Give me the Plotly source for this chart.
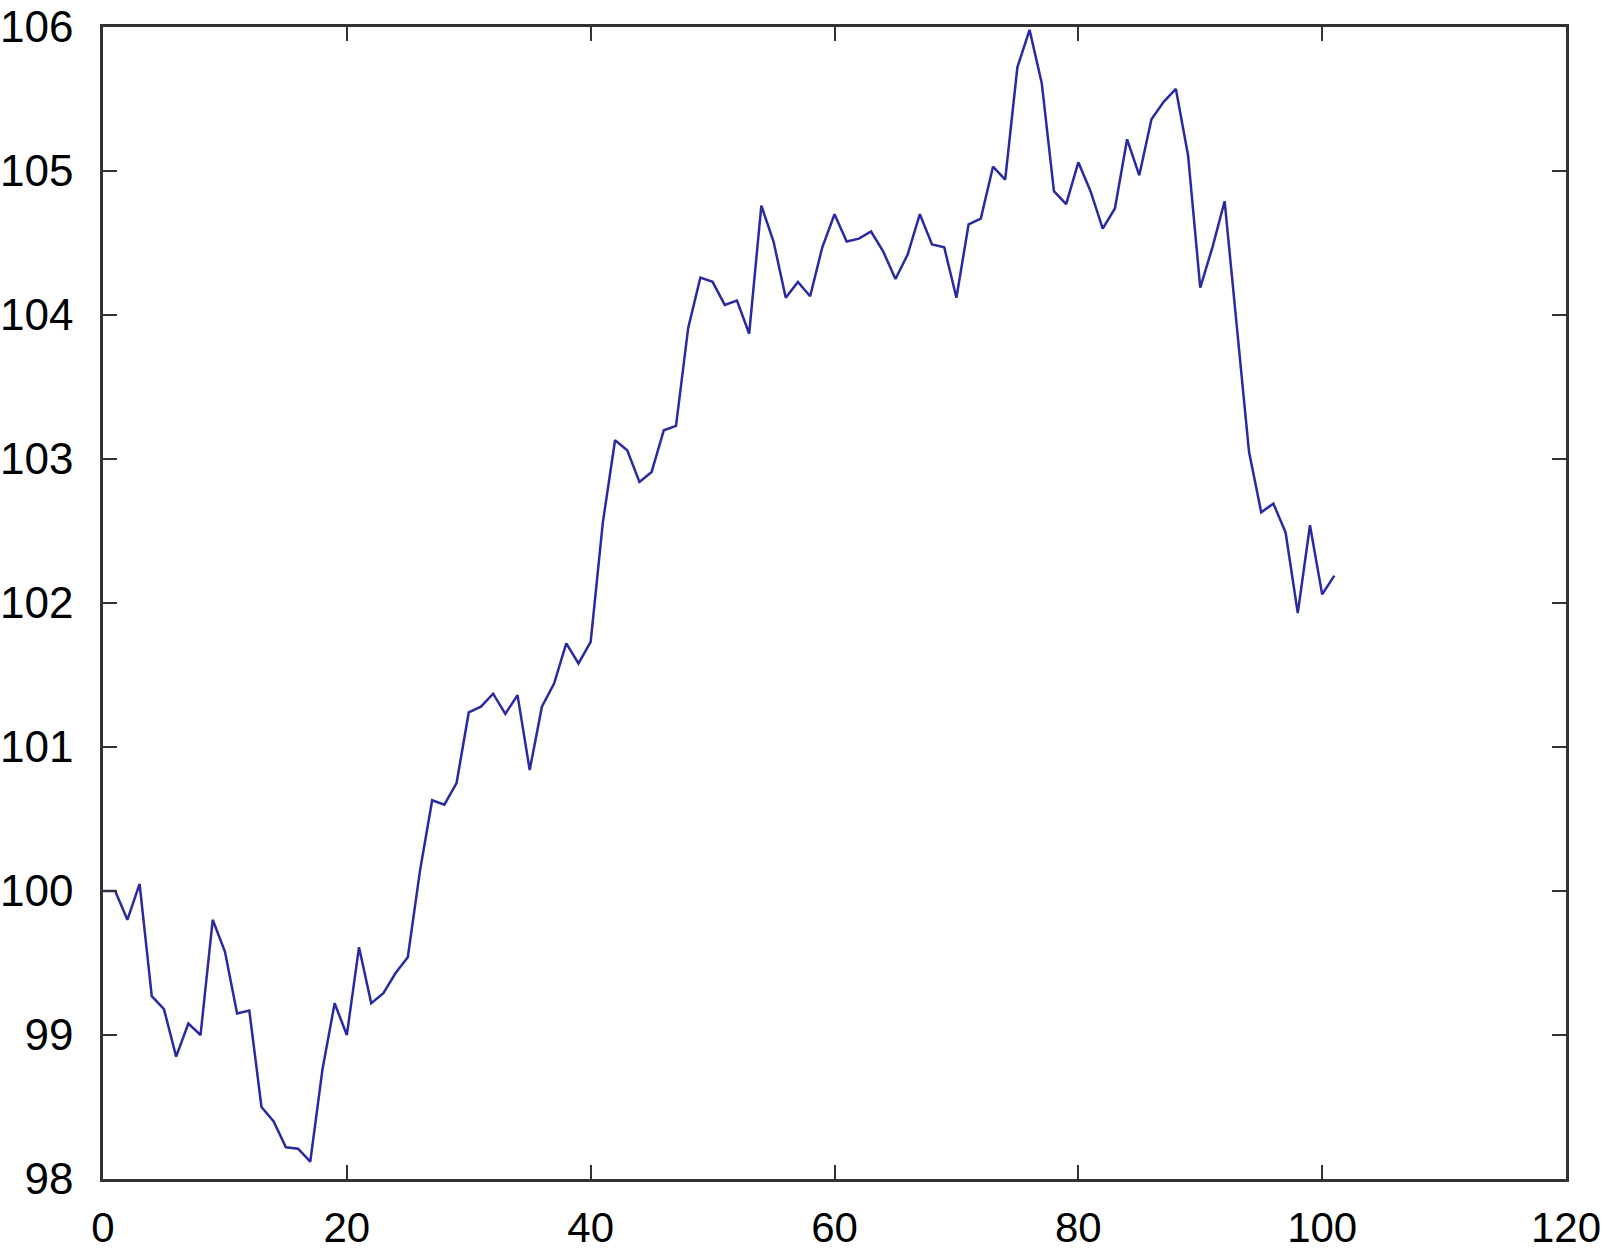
import plotly.graph_objects as go

steps = list(range(102))
values = [
    100.0, 100.0, 99.8, 100.05, 99.27, 99.18, 98.85, 99.08, 99.0, 99.8,
    99.58, 99.15, 99.17, 98.5, 98.4, 98.22, 98.21, 98.12, 98.76, 99.22,
    99.0, 99.61, 99.22, 99.29, 99.43, 99.54, 100.14, 100.63, 100.6, 100.75,
    101.24, 101.28, 101.37, 101.23, 101.36, 100.84, 101.28, 101.44, 101.72, 101.58,
    101.73, 102.56, 103.13, 103.06, 102.84, 102.91, 103.2, 103.23, 103.91, 104.26,
    104.23, 104.07, 104.1, 103.87, 104.76, 104.51, 104.12, 104.23, 104.13, 104.47,
    104.7, 104.51, 104.53, 104.58, 104.44, 104.25, 104.42, 104.7, 104.49, 104.47,
    104.12, 104.63, 104.67, 105.03, 104.94, 105.72, 105.98, 105.61, 104.86, 104.77,
    105.06, 104.86, 104.6, 104.74, 105.22, 104.97, 105.36, 105.48, 105.57, 105.11,
    104.19, 104.47, 104.79, 103.91, 103.05, 102.63, 102.69, 102.49, 101.93, 102.54,
    102.06, 102.19,
]
x_ticks = [0, 20, 40, 60, 80, 100, 120]
y_ticks = [98, 99, 100, 101, 102, 103, 104, 105, 106]

fig = go.Figure(go.Scatter(x=steps, y=values, mode="lines",
                           line=dict(color="#2a2aa0", width=2.5)))

axis_common = dict(showline=True, linecolor="#333333", linewidth=2.5, mirror="allticks",
                   ticks="inside", ticklen=14, tickwidth=2, tickcolor="#333333",
                   showgrid=False, zeroline=False, automargin=False,
                   ticklabeloverflow="allow")
font_family = "Liberation Sans, Arial, sans-serif"

fig.update_layout(
    width=1605, height=1250,
    margin=dict(l=103, r=39, t=27, b=71),
    paper_bgcolor="white", plot_bgcolor="white",
    showlegend=False,
    xaxis=dict(range=[0, 120], tickvals=x_ticks, ticktext=[str(v) for v in x_ticks],
               ticklabelstandoff=10,
               tickfont=dict(family=font_family, size=42, color="black"), **axis_common),
    yaxis=dict(range=[98, 106], tickvals=y_ticks, ticktext=[str(v) for v in y_ticks],
               ticklabelstandoff=18,
               tickfont=dict(family=font_family, size=44, color="black"), **axis_common),
)

fig.write_html("out.html", config={"displayModeBar": False},
               post_script="document.body.style.margin='0';")
